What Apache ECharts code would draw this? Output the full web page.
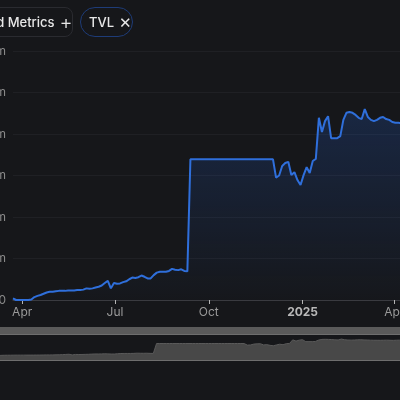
<!DOCTYPE html>
<html>
<head>
<meta charset="utf-8">
<script src="https://cdn.jsdelivr.net/npm/echarts@6/dist/echarts.min.js"></script>
<style>
  html, body { margin: 0; padding: 0; background: #16171a; }
  #wrap { position: relative; width: 400px; height: 400px; overflow: hidden; font-family: Inter, "Noto Sans", sans-serif; }
  #chart { position: absolute; left: 0; top: 0; width: 400px; height: 400px; }
  .btn { position: absolute; top: 7px; height: 30px; box-sizing: border-box; display: flex; align-items: center;
         color: #e8e8e8; font-size: 13px; font-weight: 500; white-space: nowrap; }
  #metrics { left: -33px; width: 106px; border: 1px solid #2a2b30; border-radius: 8px; padding-left: 11px; }
  #metrics .ic { margin-left: 5px; font-size: 20px; font-weight: 300; line-height: 20px; }
  #tvl { left: 80px; width: 53px; border: 1px solid #1e3c78; border-radius: 15px; padding-left: 8px; }
  #tvl .ic { margin-left: 5px; font-size: 15px; font-weight: 300; }
</style>
</head>
<body>
<div id="wrap">
  <div id="chart"></div>
  <div class="btn" id="metrics">Add Metrics<span class="ic">+</span></div>
  <div class="btn" id="tvl">TVL<span class="ic">✕</span></div>
</div>
<script type="text/javascript">
// TVL in $m, one value every 3 days from 23 Mar 2024
var startDate = [2024, 2, 23];
var stepDays = 3;

var tvlRamp = [0.4, 0.0, 0.0, 0.0, 0.0, 0.0, 0.1, 0.7, 1.0, 1.2,
               1.5, 1.8, 2.0, 2.0, 2.1, 2.2, 2.2, 2.2, 2.3, 2.3,
               2.3, 2.4, 2.4, 2.5, 2.8, 2.7, 2.8, 3.0, 3.2, 3.5,
               4.1, 4.6, 2.8, 4.1, 3.9, 4.0, 4.3, 4.5, 5.0, 5.4,
               5.3, 5.5, 5.9, 5.6, 5.2, 5.2, 6.0, 6.6, 6.8, 6.8,
               6.8, 7.0, 7.5, 7.3, 7.2, 7.4, 7.0, 6.9];
var tvlPlateau = [33.9, 33.9, 33.9, 33.9, 33.9, 33.9, 33.9, 33.9, 33.9, 33.9,
                  33.9, 33.9, 33.9, 33.9, 33.9, 33.9, 33.9, 33.9, 33.9, 33.9,
                  33.9, 33.9, 33.9, 33.9, 33.9, 33.9, 33.9, 33.9];
var tvlChop = [29.5, 30.0, 32.3, 33.0, 33.3, 30.1, 30.8, 28.9, 27.7, 30.1,
               32.0, 30.6, 33.5, 34.0, 43.9, 40.5, 43.1, 44.3, 39.0, 39.0,
               39.0, 39.5, 43.4, 45.1, 45.3, 45.1, 44.6, 43.9, 43.6, 46.0,
               44.1, 43.4, 43.1, 43.4, 43.9, 44.1, 43.6, 43.4, 42.9, 42.7, 42.7];
var tvlTail = [42.6, 42.8, 43.0, 42.7, 42.4, 42.9, 43.1, 42.8, 42.5, 42.7];

var yTickLabels = ['0', '$10m', '$20m', '$30m', '$40m', '$50m', '$60m'];
var monthNames = ['Jan', 'Feb', 'Mar', 'Apr', 'May', 'Jun', 'Jul', 'Aug', 'Sep', 'Oct', 'Nov', 'Dec'];

var tvlValues = tvlRamp.concat(tvlPlateau, tvlChop, tvlTail);
var seriesData = [];
for (var i = 0; i < tvlValues.length; i++) {
  var d = new Date(startDate[0], startDate[1], startDate[2] + i * stepDays);
  seriesData.push([d.getTime(), tvlValues[i]]);
}
var DAY = 86400000;

var chart = echarts.init(document.getElementById('chart'));
var option = {
  backgroundColor: 'transparent',
  animation: false,
  textStyle: { fontFamily: 'Inter, "Noto Sans", sans-serif' },
  grid: { left: 13, right: -29, top: 51, bottom: 100, containLabel: false, outerBoundsMode: 'none' },
  xAxis: {
    type: 'time',
    min: seriesData[0][0],
    max: seriesData[seriesData.length - 1][0],
    splitNumber: 4,
    minInterval: 89 * DAY,
    maxInterval: 92 * DAY,
    axisLine: { lineStyle: { color: '#3a3b40' } },
    axisTick: { show: true, length: 4, lineStyle: { color: '#b5b5b5' } },
    splitLine: { show: false },
    axisLabel: {
      color: '#9a9a9a', fontSize: 12, margin: 6,
      showMinLabel: false, showMaxLabel: false,
      formatter: function (val) {
        var d = new Date(val);
        if (d.getMonth() === 0) return '{y|' + d.getFullYear() + '}';
        return monthNames[d.getMonth()];
      },
      rich: { y: { fontWeight: 'bold', color: '#b8b8b8', fontSize: 12 } }
    }
  },
  yAxis: {
    type: 'value', min: 0, max: 60, interval: 10,
    axisLine: { show: false }, axisTick: { show: false },
    splitLine: { lineStyle: { color: '#1f2024' } },
    axisLabel: {
      color: '#8a8a8a', fontSize: 12, margin: 7,
      formatter: function (v) { return yTickLabels[Math.round(v / 10)]; }
    }
  },
  dataZoom: [{
    type: 'slider', xAxisIndex: 0, start: 0, end: 100,
    left: -34, right: -7, top: 334, height: 27,
    backgroundColor: 'rgba(0,0,0,0)',
    borderColor: '#6e6e6e',
    fillerColor: 'rgba(0,0,0,0)',
    dataBackground: { lineStyle: { color: '#5a5a5a', width: 1, opacity: 1 }, areaStyle: { color: '#484848', opacity: 1 } },
    selectedDataBackground: { lineStyle: { color: '#5a5a5a', width: 1, opacity: 1 }, areaStyle: { color: '#484848', opacity: 1 } },
    handleStyle: { color: 'rgba(0,0,0,0)', borderColor: 'rgba(0,0,0,0)' },
    moveHandleSize: 0,
    moveHandleStyle: { opacity: 0 },
    showDetail: false, brushSelect: false
  }],
  graphic: [{
    type: 'rect', left: 0, top: 327, silent: true,
    shape: { width: 400, height: 7 },
    style: { fill: '#5a5a5a' }
  }],
  series: [{
    type: 'line',
    data: seriesData,
    showSymbol: false,
    lineStyle: { width: 2, color: '#2f6fdb' },
    itemStyle: { color: '#2f6fdb' },
    areaStyle: {
      color: new echarts.graphic.LinearGradient(0, 0, 0, 1, [
        { offset: 0, color: 'rgba(35,85,180,0.38)' },
        { offset: 1, color: 'rgba(35,85,180,0.02)' }
      ])
    }
  }]
};
chart.setOption(option);
</script>
</body>
</html>
